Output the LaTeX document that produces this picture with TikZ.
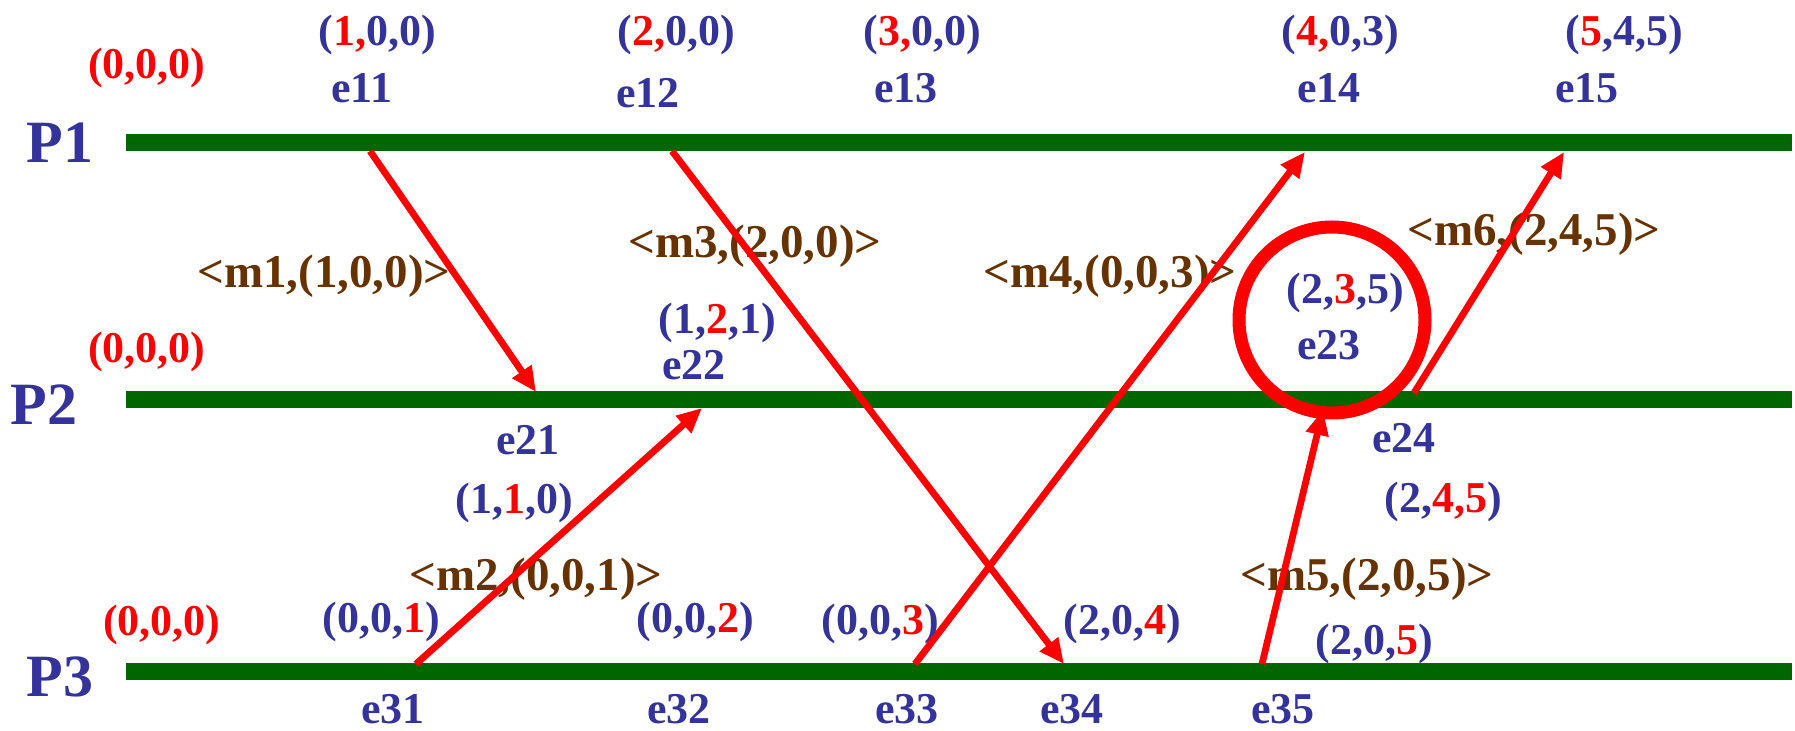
\documentclass[tikz,border=0pt]{standalone}
\usepackage{fontspec}
\setmainfont{Liberation Serif}
\usetikzlibrary{arrows.meta}
\definecolor{procgreen}{RGB}{0,102,0}
\definecolor{evblue}{RGB}{51,51,153}
\definecolor{msgbrown}{RGB}{102,51,0}
\newcommand{\own}[1]{\textcolor{red}{#1}}
\tikzset{clocks/.style={
  x=0.5pt,y=-0.5pt,
  >={Triangle[length=12.5pt,width=11pt]},line join=round
}}
\tikzset{
  proc/.style={procgreen,line width=8.5pt},
  msg/.style={->,red,line width=3.4pt},
  txt/.style={inner sep=0pt,anchor=base,font=\fontsize{22}{26}\selectfont\bfseries},
  ev/.style={txt,evblue},
  vc/.style={txt,evblue},
  init/.style={txt,red},
  mlab/.style={txt,msgbrown,font=\fontsize{23.5}{27}\selectfont\bfseries},
  plab/.style={txt,evblue,font=\fontsize{30}{34}\selectfont\bfseries}
}

\begin{document}
\begin{tikzpicture}[clocks]
  \useasboundingbox (0,0) rectangle (1795,731);
  \coordinate (e11) at (370,151);
  \coordinate (e12) at (672,151);
  \coordinate (e14) at (1305,152);
  \coordinate (e15) at (1564,152);
  \coordinate (e21) at (536,392);
  \coordinate (e22) at (702,408);
  \coordinate (e23) at (1323,410);
  \coordinate (e24) at (1414,393);
  \coordinate (e31) at (416,664);
  \coordinate (e33) at (915,664);
  \coordinate (e34) at (1064,664);
  \coordinate (e35) at (1262,664);
  \foreach \y in {143,400,672}
    \draw[proc] (126,\y) -- (1792,\y);
  \node[plab] (p1) at (60,163) {P1};
  \node[plab] (p2) at (44,425) {P2};
  \node[plab] (p3) at (60,697) {P3};
  \node[init] (z1) at (147,79) {(0,0,0)};
  \node[init] (z2) at (147,363) {(0,0,0)};
  \node[init] (z3) at (162,636) {(0,0,0)};
  \node[vc] (v11) at (377,46) {(\own{1,}0,0)};
  \node[vc] (v12) at (676,46) {(\own{2,}0,0)};
  \node[vc] (v13) at (922,46) {(\own{3,}0,0)};
  \node[vc] (v14) at (1340,46) {(\own{4,}0,3)};
  \node[vc] (v15) at (1624,46) {(\own{5},4,5)};
  \node[ev] (l11) at (362,103) {e11};
  \node[ev] (l12) at (648,108) {e12};
  \node[ev] (l13) at (906,103) {e13};
  \node[ev] (l14) at (1329,103) {e14};
  \node[ev] (l15) at (1587,103) {e15};
  \node[vc] (v22) at (717,334) {(1,\own{2},1)};
  \node[ev] (l22) at (694,380) {e22};
  \node[vc] (v23) at (1345,304) {(2,\own{3},5)};
  \node[ev] (l23) at (1329,360) {e23};
  \node[ev] (l21) at (528,455) {e21};
  \node[ev] (l24) at (1404,453) {e24};
  \node[vc] (v21) at (514,514) {(1,\own{1},0)};
  \node[vc] (v24) at (1443,513) {(2,\own{4,5})};
  \node[vc] (v31) at (381,633) {(0,0,\own{1})};
  \node[vc] (v32) at (695,633) {(0,0,\own{2})};
  \node[vc] (v33) at (880,635) {(0,0,\own{3})};
  \node[vc] (v34) at (1122,635) {(2,0,\own{4})};
  \node[vc] (v35) at (1374,655) {(2,0,\own{5})};
  \node[ev] (l31) at (393,724) {e31};
  \node[ev] (l32) at (679,724) {e32};
  \node[ev] (l33) at (907,724) {e33};
  \node[ev] (l34) at (1072,724) {e34};
  \node[ev] (l35) at (1283,724) {e35};
  \node[mlab] (m1) at (324,288) {<m1,(1,0,0)>};
  \node[mlab] (m2) at (536,591) {<m2,(0,0,1)>};
  \node[mlab] (m3) at (755,258) {<m3,(2,0,0)>};
  \node[mlab] (m4) at (1110,288) {<m4,(0,0,3)>};
  \node[mlab] (m5) at (1367,591) {<m5,(2,0,5)>};
  \node[mlab] (m6) at (1534,246) {<m6,(2,4,5)>};
  \draw[red,line width=6.5pt] (1332,320) circle[radius=46.5pt];
  \draw[msg] (e11) -- (e21);
  \draw[msg] (e31) -- (e22);
  \draw[msg] (e12) -- (e34);
  \draw[msg] (e33) -- (e14);
  \draw[msg] (e35) -- (e23);
  \draw[msg] (e24) -- (e15);
\end{tikzpicture}
\end{document}
